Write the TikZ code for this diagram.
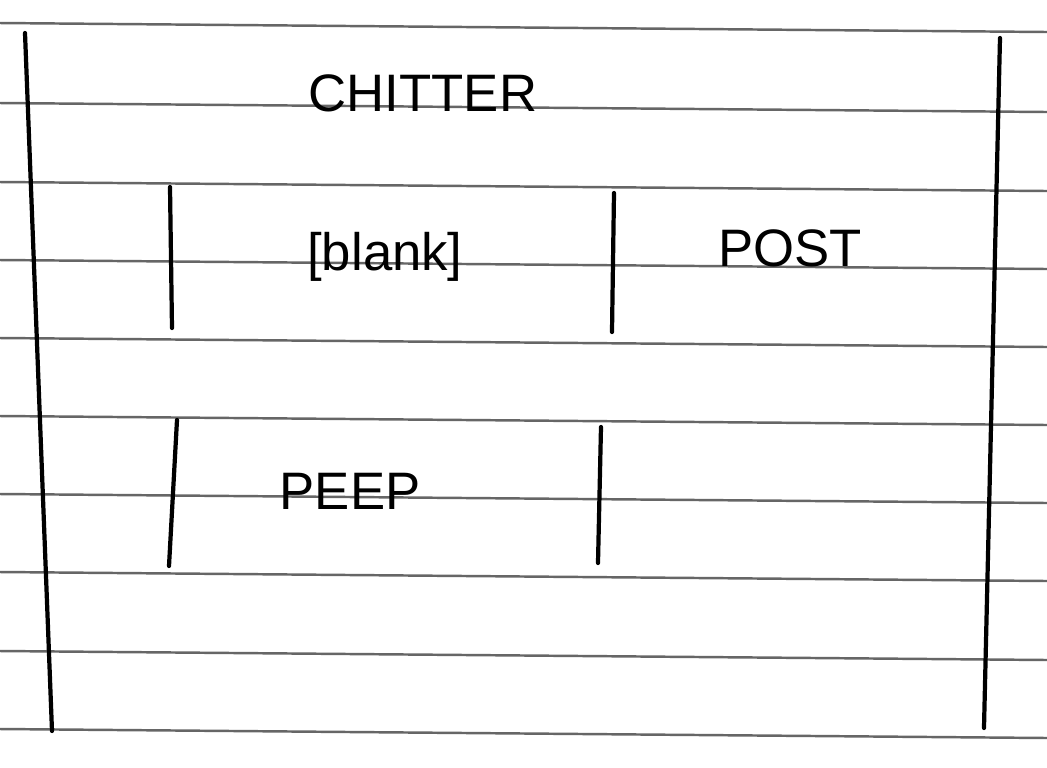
\documentclass[tikz,border=0pt]{standalone}
\usepackage{fontspec}
\setmainfont{Liberation Sans}
\begin{document}
\begin{tikzpicture}[x=1cm,y=-1cm,
  rule/.style={draw=black!60,line width=0.7pt},
  pen/.style={draw=black,line width=1.2pt,line cap=round},
  word/.style={font=\fontsize{15}{15}\selectfont}]
  \useasboundingbox[fill=white] (0,0) rectangle (10.47,7.67);

  % ruled paper
  \foreach \y in {0.23,1.03,1.82,2.60,3.38,4.16,4.94,5.72,6.51,7.29}
    \draw[rule] (0,\y) -- (10.47,\y+0.09);

  % page frame
  \draw[pen] (0.25,0.33) -- (0.52,7.31);
  \draw[pen] (10.00,0.38) -- (9.84,7.28);

  \node (title) at (4.23,0.93) [word]{CHITTER};
  \node (blank) at (3.85,2.57) [word]{[blank]};
  \node (post) at (7.90,2.48) [word]{POST};
  \node (peep) at (3.50,4.91) [word]{PEEP};

  % row one
  \draw[pen] (1.70,1.87) -- (1.72,3.28);
  \draw[pen] (6.14,1.93) -- (6.12,3.32);

  % row two
  \draw[pen] (1.77,4.20) -- (1.69,5.66);
  \draw[pen] (6.01,4.27) -- (5.98,5.63);

\end{tikzpicture}
\end{document}
